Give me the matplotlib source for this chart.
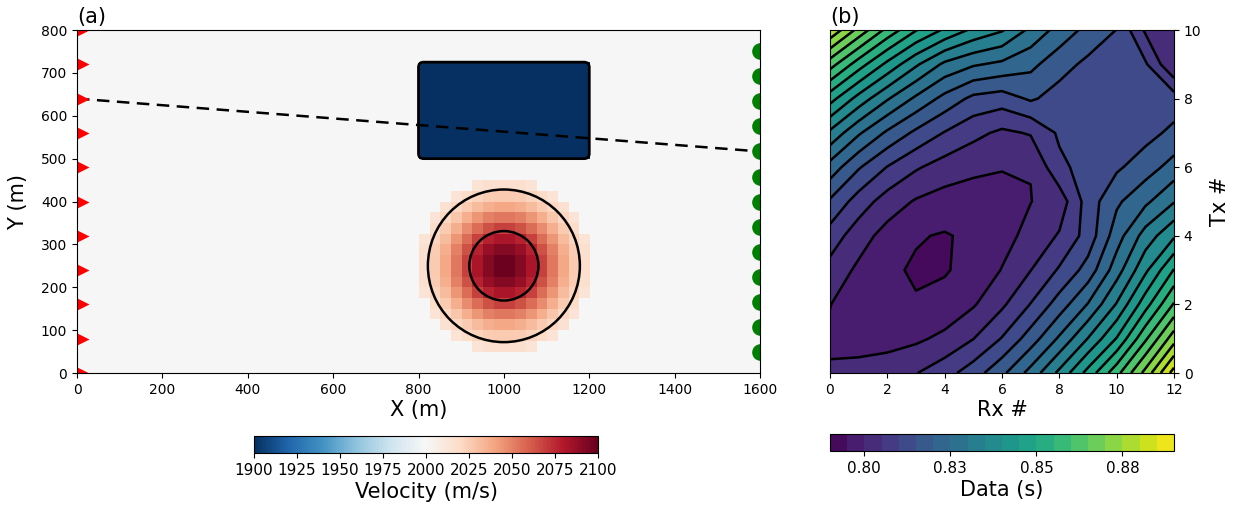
import numpy as np
import matplotlib
matplotlib.use('Agg')
import matplotlib.pyplot as plt
from matplotlib.patches import Circle, FancyBboxPatch

# ---------------- data ----------------
# velocity model (25 m cells on a 1600 x 800 m domain)
cell = 25.0
v_background = 2000.0
v_block = 1900.0
block_x = [800, 1200]
block_y = [500, 725]
# positive velocity anomaly (m/s above background), 16 x 16 cells,
# covering x 800-1200 m, y 50-450 m (rows listed bottom -> top)
anomaly_x0, anomaly_y0 = 800, 50
anomaly = [
    [0, 0, 0, 0, 0, 14, 16, 17, 17, 16, 14, 0, 0, 0, 0, 0],
    [0, 0, 0, 14, 18, 22, 25, 26, 26, 25, 22, 18, 14, 0, 0, 0],
    [0, 0, 15, 21, 26, 32, 36, 39, 39, 36, 32, 26, 21, 15, 0, 0],
    [0, 14, 21, 28, 36, 44, 50, 53, 53, 50, 44, 36, 28, 21, 14, 0],
    [0, 18, 26, 36, 47, 56, 64, 68, 68, 64, 56, 47, 36, 26, 18, 0],
    [14, 22, 32, 44, 56, 68, 77, 82, 82, 77, 68, 56, 44, 32, 22, 14],
    [16, 25, 36, 50, 64, 77, 87, 92, 92, 87, 77, 64, 50, 36, 25, 16],
    [17, 26, 39, 53, 68, 82, 92, 98, 98, 92, 82, 68, 53, 39, 26, 17],
    [17, 26, 39, 53, 68, 82, 92, 98, 98, 92, 82, 68, 53, 39, 26, 17],
    [16, 25, 36, 50, 64, 77, 87, 92, 92, 87, 77, 64, 50, 36, 25, 16],
    [14, 22, 32, 44, 56, 68, 77, 82, 82, 77, 68, 56, 44, 32, 22, 14],
    [0, 18, 26, 36, 47, 56, 64, 68, 68, 64, 56, 47, 36, 26, 18, 0],
    [0, 14, 21, 28, 36, 44, 50, 53, 53, 50, 44, 36, 28, 21, 14, 0],
    [0, 0, 15, 21, 26, 32, 36, 39, 39, 36, 32, 26, 21, 15, 0, 0],
    [0, 0, 0, 14, 18, 22, 25, 26, 26, 25, 22, 18, 14, 0, 0, 0],
    [0, 0, 0, 0, 0, 14, 16, 17, 17, 16, 14, 0, 0, 0, 0, 0],
]
circle_center = (1000, 250)
circle_radii = [178, 81]

# transmitters (x = 0) and receivers (x = 1600)
tx_y = [0, 80, 160, 240, 320, 400, 480, 560, 640, 720, 800]
rx_y = [50, 108.3, 166.7, 225, 283.3, 341.7, 400, 458.3, 516.7, 575, 633.3, 691.7, 750]
ray_tx, ray_rx = 8, 8

# travel-time data (s): rows = Tx # 0..10, columns = Rx # 0..12
data = [
    [0.8004, 0.8011, 0.8025, 0.8048, 0.8080, 0.8126, 0.8188, 0.8268, 0.8362, 0.8468, 0.8583, 0.8716, 0.8872],
    [0.7994, 0.7987, 0.7983, 0.7991, 0.8012, 0.8049, 0.8103, 0.8174, 0.8258, 0.8352, 0.8453, 0.8591, 0.8729],
    [0.8001, 0.7978, 0.7959, 0.7954, 0.7966, 0.7995, 0.8041, 0.8102, 0.8173, 0.8253, 0.8354, 0.8479, 0.8605],
    [0.8032, 0.7990, 0.7959, 0.7944, 0.7946, 0.7966, 0.8002, 0.8049, 0.8106, 0.8170, 0.8277, 0.8389, 0.8503],
    [0.8078, 0.8022, 0.7981, 0.7954, 0.7946, 0.7960, 0.7983, 0.8015, 0.8055, 0.8120, 0.8227, 0.8321, 0.8393],
    [0.8143, 0.8077, 0.8027, 0.7995, 0.7979, 0.7976, 0.7986, 0.7999, 0.8021, 0.8123, 0.8191, 0.8239, 0.8297],
    [0.8230, 0.8155, 0.8098, 0.8056, 0.8028, 0.8011, 0.8002, 0.8001, 0.8088, 0.8120, 0.8142, 0.8176, 0.8220],
    [0.8339, 0.8257, 0.8191, 0.8139, 0.8097, 0.8064, 0.8040, 0.8054, 0.8108, 0.8106, 0.8114, 0.8133, 0.8162],
    [0.8470, 0.8381, 0.8305, 0.8240, 0.8184, 0.8137, 0.8125, 0.8157, 0.8129, 0.8112, 0.8105, 0.8109, 0.8124],
    [0.8622, 0.8524, 0.8437, 0.8358, 0.8289, 0.8256, 0.8239, 0.8213, 0.8170, 0.8138, 0.8117, 0.8107, 0.8001],
    [0.8792, 0.8684, 0.8585, 0.8503, 0.8442, 0.8389, 0.8355, 0.8288, 0.8231, 0.8185, 0.8149, 0.8043, 0.8004],
]
data_levels_min, data_levels_max, data_level_step = 0.79, 0.89, 0.005
data_ticks = [0.8, 0.825, 0.85, 0.875]
data_ticklabels = ["0.80", "0.83", "0.85", "0.88"]
vel_ticks = [1900, 1925, 1950, 1975, 2000, 2025, 2050, 2075, 2100]

# ---------------- build model grid ----------------
nx, ny = int(1600 / cell), int(800 / cell)
model = np.full((ny, nx), v_background)
bx0, bx1 = int(block_x[0] / cell), int(block_x[1] / cell)
by0, by1 = int(block_y[0] / cell), int(block_y[1] / cell)
model[by0:by1, bx0:bx1] = v_block
an = np.array(anomaly, dtype=float)
ax0, ay0 = int(anomaly_x0 / cell), int(anomaly_y0 / cell)
model[ay0:ay0 + an.shape[0], ax0:ax0 + an.shape[1]] += an

# ---------------- figure ----------------
fig = plt.figure(figsize=(12.38, 5.13), dpi=100)
ax = fig.add_axes([0.0622, 0.2729, 0.5517, 0.6686])
axb = fig.add_axes([0.6704, 0.2729, 0.2779, 0.6686])
cax_a = fig.add_axes([0.2052, 0.117, 0.2779, 0.0331])
cax_b = fig.add_axes([0.6704, 0.121, 0.2779, 0.0331])

im = ax.imshow(model, origin='lower', extent=[0, 1600, 0, 800], cmap='RdBu_r',
               vmin=1900, vmax=2100, interpolation='nearest', aspect='auto')
ax.add_patch(FancyBboxPatch((block_x[0], block_y[0]), block_x[1] - block_x[0],
                            block_y[1] - block_y[0],
                            boxstyle='round,pad=0,rounding_size=12',
                            fc='none', ec='k', lw=2))
for rad in circle_radii:
    ax.add_patch(Circle(circle_center, rad, fc='none', ec='k', lw=1.8))
ax.plot([0, 1600], [tx_y[ray_tx], rx_y[ray_rx]], 'k--', lw=1.8, dashes=(5, 3))
ax.plot(np.zeros(len(tx_y)), tx_y, '>', color='r', ms=17, mec='none')
ax.plot(np.full(len(rx_y), 1600), rx_y, 'o', color='g', ms=12, mec='none')
ax.set_xlim(0, 1600)
ax.set_ylim(0, 800)
ax.set_xticks(np.arange(0, 1601, 200))
ax.set_yticks(np.arange(0, 801, 100))
ax.tick_params(labelsize=10)
ax.set_xlabel('X (m)', fontsize=15, labelpad=2)
ax.set_ylabel('Y (m)', fontsize=15, labelpad=9)
ax.set_title('(a)', loc='left', fontsize=15, pad=5)

cb = fig.colorbar(im, cax=cax_a, orientation='horizontal', ticks=vel_ticks)
cb.ax.tick_params(labelsize=11)
cb.set_label('Velocity (m/s)', fontsize=15, labelpad=3)

T = np.array(data)
levels = np.arange(data_levels_min, data_levels_max + 1e-9, data_level_step)
rx_idx = np.arange(T.shape[1])
tx_idx = np.arange(T.shape[0])
cf = axb.contourf(rx_idx, tx_idx, T, levels=levels, cmap='viridis')
axb.contour(rx_idx, tx_idx, T, levels=levels, colors='k', linewidths=1.8)
axb.set_xticks(np.arange(0, 13, 2))
axb.set_yticks(np.arange(0, 11, 2))
axb.yaxis.tick_right()
axb.yaxis.set_label_position('right')
axb.tick_params(labelsize=10)
axb.set_xlabel('Rx #', fontsize=15, labelpad=2)
axb.set_ylabel('Tx #', fontsize=15, labelpad=6)
axb.set_title('(b)', loc='left', fontsize=15, pad=5)

cb2 = fig.colorbar(cf, cax=cax_b, orientation='horizontal', ticks=data_ticks)
cb2.ax.set_xticklabels(data_ticklabels)
cb2.ax.tick_params(labelsize=11)
cb2.set_label('Data (s)', fontsize=15, labelpad=3)

fig.savefig('out.png', dpi=100)
